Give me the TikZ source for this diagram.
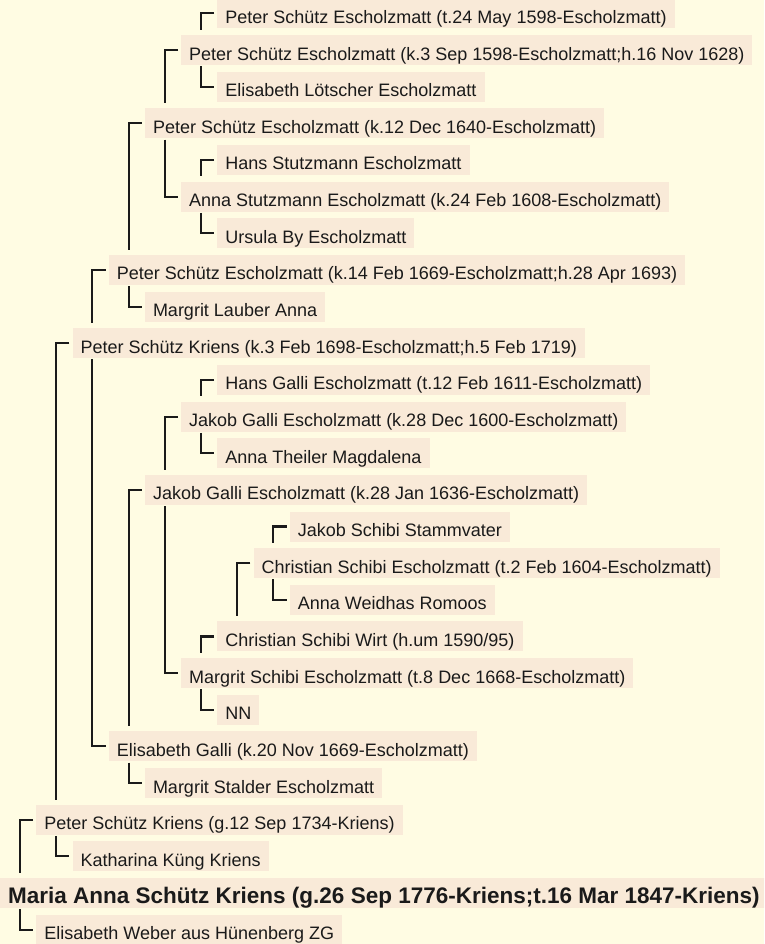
\documentclass[tikz,border=0pt]{standalone}
\usepackage{fontspec}
\setmainfont{Liberation Sans}
\usepackage{tikz}
\usetikzlibrary{positioning}

\definecolor{pagebg}{HTML}{FFFCE3}
\definecolor{boxbg}{HTML}{F9EAD8}
\definecolor{inkcol}{HTML}{1A1A1A}

\begin{document}
\begin{tikzpicture}[
  x=36.2pt, y=-36.65pt,
  person/.style={rectangle, fill=boxbg, anchor=base west, text=inkcol,
    font=\fontsize{18}{20}\selectfont, text height=24pt, text depth=4pt,
    inner xsep=8pt, inner ysep=1pt},
  proband/.style={person, font=\bfseries\fontsize{22.5}{24}\selectfont},
  link/.style={draw=inkcol, line width=2.1pt}
]

\clip (0,-13.25pt) rectangle (764pt,-957.25pt);
\fill[pagebg] (0,-13.25pt) rectangle (764pt,-957.25pt);

% Schuetz line
\node[person] (peterA) at (6,1) {Peter Schütz Escholzmatt (t.24 May 1598-Escholzmatt)};
\node[person] (peterB) at (5,2) {Peter Schütz Escholzmatt (k.3 Sep 1598-Escholzmatt;h.16 Nov 1628)};
\node[person] (elisL) at (6,3) {Elisabeth Lötscher Escholzmatt};
\node[person] (peterC) at (4,4) {Peter Schütz Escholzmatt (k.12 Dec 1640-Escholzmatt)};
\node[person] (hansS) at (6,5) {Hans Stutzmann Escholzmatt};
\node[person] (annaS) at (5,6) {Anna Stutzmann Escholzmatt (k.24 Feb 1608-Escholzmatt)};
\node[person] (ursula) at (6,7) {Ursula By Escholzmatt};
\node[person] (peterD) at (3,8) {Peter Schütz Escholzmatt (k.14 Feb 1669-Escholzmatt;h.28 Apr 1693)};
\node[person] (margritL) at (4,9) {Margrit Lauber Anna};
\node[person] (peterE) at (2,10) {Peter Schütz Kriens (k.3 Feb 1698-Escholzmatt;h.5 Feb 1719)};

% Galli and Schibi line
\node[person] (hansG) at (6,11) {Hans Galli Escholzmatt (t.12 Feb 1611-Escholzmatt)};
\node[person] (jakobA) at (5,12) {Jakob Galli Escholzmatt (k.28 Dec 1600-Escholzmatt)};
\node[person] (annaT) at (6,13) {Anna Theiler Magdalena};
\node[person] (jakobB) at (4,14) {Jakob Galli Escholzmatt (k.28 Jan 1636-Escholzmatt)};
\node[person] (jakobS) at (8,15) {Jakob Schibi Stammvater};
\node[person] (christE) at (7,16) {Christian Schibi Escholzmatt (t.2 Feb 1604-Escholzmatt)};
\node[person] (annaW) at (8,17) {Anna Weidhas Romoos};
\node[person] (christW) at (6,18) {Christian Schibi Wirt (h.um 1590/95)};
\node[person] (margritS) at (5,19) {Margrit Schibi Escholzmatt (t.8 Dec 1668-Escholzmatt)};
\node[person] (nn) at (6,20) {NN};
\node[person] (elisG) at (3,21) {Elisabeth Galli (k.20 Nov 1669-Escholzmatt)};
\node[person] (margritSt) at (4,22) {Margrit Stalder Escholzmatt};

% Kriens
\node[person] (peterF) at (1,23) {Peter Schütz Kriens (g.12 Sep 1734-Kriens)};
\node[person] (katharina) at (2,24) {Katharina Küng Kriens};
\node[proband] (maria) at (0,25) {Maria Anna Schütz Kriens (g.26 Sep 1776-Kriens;t.16 Mar 1847-Kriens)};
\node[person] (elisW) at (1,26) {Elisabeth Weber aus Hünenberg ZG};

% fathers
\draw[link] ([xshift=-3pt]peterA.west) -| ([xshift=20pt,yshift=5pt]peterB.north west);
\draw[link] ([xshift=-3pt]peterB.west) -| ([xshift=20pt,yshift=5pt]peterC.north west);
\draw[link] ([xshift=-3pt]hansS.west) -| ([xshift=20pt,yshift=5pt]annaS.north west);
\draw[link] ([xshift=-3pt]peterC.west) -| ([xshift=20pt,yshift=5pt]peterD.north west);
\draw[link] ([xshift=-3pt]peterD.west) -| ([xshift=20pt,yshift=5pt]peterE.north west);
\draw[link] ([xshift=-3pt]hansG.west) -| ([xshift=20pt,yshift=5pt]jakobA.north west);
\draw[link] ([xshift=-3pt]jakobA.west) -| ([xshift=20pt,yshift=5pt]jakobB.north west);
\draw[link] ([xshift=-3pt]jakobS.west) -| ([xshift=20pt,yshift=5pt]christE.north west);
\draw[link] ([xshift=-3pt]christE.west) -| ([xshift=20pt,yshift=5pt]christW.north west);
\draw[link] ([xshift=-3pt]christW.west) -| ([xshift=20pt,yshift=5pt]margritS.north west);
\draw[link] ([xshift=-3pt]jakobB.west) -| ([xshift=20pt,yshift=5pt]elisG.north west);
\draw[link] ([xshift=-3pt]peterE.west) -| ([xshift=20pt,yshift=5pt]peterF.north west);
\draw[link] ([xshift=-3pt]peterF.west) -| ([xshift=20pt,yshift=5pt]maria.north west);

% mothers
\draw[link] ([xshift=20pt,yshift=-1pt]peterB.south west) |- ([xshift=-3pt]elisL.west);
\draw[link] ([xshift=20pt,yshift=-1pt]annaS.south west) |- ([xshift=-3pt]ursula.west);
\draw[link] ([xshift=20pt,yshift=-1pt]peterC.south west) |- ([xshift=-3pt]annaS.west);
\draw[link] ([xshift=20pt,yshift=-1pt]peterD.south west) |- ([xshift=-3pt]margritL.west);
\draw[link] ([xshift=20pt,yshift=-1pt]jakobA.south west) |- ([xshift=-3pt]annaT.west);
\draw[link] ([xshift=20pt,yshift=-1pt]christE.south west) |- ([xshift=-3pt]annaW.west);
\draw[link] ([xshift=20pt,yshift=-1pt]margritS.south west) |- ([xshift=-3pt]nn.west);
\draw[link] ([xshift=20pt,yshift=-1pt]jakobB.south west) |- ([xshift=-3pt]margritS.west);
\draw[link] ([xshift=20pt,yshift=-1pt]elisG.south west) |- ([xshift=-3pt]margritSt.west);
\draw[link] ([xshift=20pt,yshift=-1pt]peterE.south west) |- ([xshift=-3pt]elisG.west);
\draw[link] ([xshift=20pt,yshift=-1pt]peterF.south west) |- ([xshift=-3pt]katharina.west);
\draw[link] ([xshift=20pt,yshift=-1pt]maria.south west) |- ([xshift=-3pt]elisW.west);

\end{tikzpicture}
\end{document}
